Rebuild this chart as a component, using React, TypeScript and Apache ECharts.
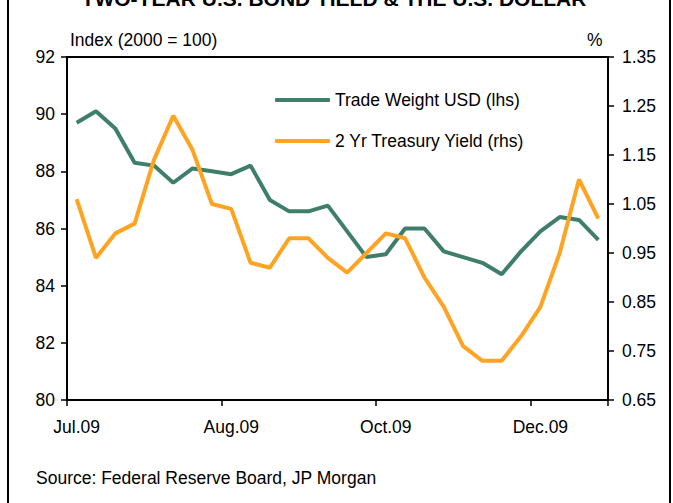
import React, { useEffect, useRef } from "react";
import * as echarts from "echarts";

const categories = [
  "Jul.09", "Jul.09", "Jul.09", "Jul.09", "Jul.09",
  "Aug.09", "Aug.09", "Aug.09", "Aug.09",
  "Sep.09", "Sep.09", "Sep.09", "Sep.09",
  "Oct.09", "Oct.09", "Oct.09", "Oct.09", "Oct.09",
  "Nov.09", "Nov.09", "Nov.09", "Nov.09",
  "Dec.09", "Dec.09", "Dec.09", "Dec.09",
  "Jan.10", "Jan.10",
];

const tradeWeightUSD = [
  89.7, 90.1, 89.5, 88.3, 88.2, 87.6, 88.1, 88.0, 87.9, 88.2,
  87.0, 86.6, 86.6, 86.8, 85.9, 85.0, 85.1, 86.0, 86.0, 85.2,
  85.0, 84.8, 84.4, 85.2, 85.9, 86.4, 86.3, 85.6,
];

const treasuryYield2Yr = [
  1.06, 0.94, 0.99, 1.01, 1.14, 1.23, 1.16, 1.05, 1.04, 0.93,
  0.92, 0.98, 0.98, 0.94, 0.91, 0.95, 0.99, 0.98, 0.90, 0.84,
  0.76, 0.73, 0.73, 0.78, 0.84, 0.95, 1.10, 1.02,
];

const seriesNames = ["Trade Weight USD (lhs)", "2 Yr Treasury Yield (rhs)"];
const titleText = "TWO-YEAR U.S. BOND YIELD & THE U.S. DOLLAR";
const leftAxisName = "Index (2000 = 100)";
const rightAxisName = "%";
const sourceText = "Source: Federal Reserve Board, JP Morgan";

const FONT = "'Liberation Sans', Arial, sans-serif";
const FS = 17.5;
const GREEN = "#3f7f69";
const ORANGE = "#ffa322";

export default function App() {
  const ref = useRef<HTMLDivElement>(null);
  useEffect(() => {
    if (!ref.current) return;
    const chart = echarts.init(ref.current, undefined, { renderer: "svg" });
    const axisLabelStyle = { color: "#000", fontSize: FS, fontFamily: FONT };
    chart.setOption({
      animation: false,
      backgroundColor: "#fff",
      textStyle: { fontFamily: FONT },
      grid: {
        left: 67,
        right: 65,
        top: 57,
        bottom: 103,
        show: true,
        borderColor: "#000",
        borderWidth: 2,
        containLabel: false,
      },
      legend: {
        orient: "vertical",
        left: 270,
        top: 86,
        itemWidth: 55,
        itemHeight: 4,
        itemGap: 23,
        icon: "roundRect",
        textStyle: { color: "#000", fontSize: FS, fontFamily: FONT },
        data: seriesNames,
      },
      xAxis: {
        type: "category",
        data: categories,
        boundaryGap: true,
        axisLine: { show: true, lineStyle: { color: "#000", width: 2 } },
        axisTick: { show: true, interval: 7, length: 6, lineStyle: { color: "#000", width: 1.5 } },
        axisLabel: { ...axisLabelStyle, interval: 7, margin: 18 },
        splitLine: { show: false },
      },
      yAxis: [
        {
          type: "value",
          position: "left",
          min: 80,
          max: 92,
          interval: 2,
          axisLine: { show: true, lineStyle: { color: "#000", width: 2 } },
          axisTick: { show: true, length: 6, lineStyle: { color: "#000", width: 1.5 } },
          axisLabel: { ...axisLabelStyle, margin: 12 },
          splitLine: { show: false },
        },
        {
          type: "value",
          position: "right",
          min: 0.65,
          max: 1.35,
          interval: 0.1,
          axisLine: { show: true, lineStyle: { color: "#000", width: 2 } },
          axisTick: { show: true, length: 6, lineStyle: { color: "#000", width: 1.5 } },
          axisLabel: {
            ...axisLabelStyle,
            margin: 14,
            formatter: (v: number) => v.toFixed(2),
          },
          splitLine: { show: false },
        },
      ],
      series: [
        {
          name: seriesNames[0],
          type: "line",
          yAxisIndex: 0,
          data: tradeWeightUSD,
          symbol: "none",
          lineStyle: { color: GREEN, width: 4 },
          itemStyle: { color: GREEN },
        },
        {
          name: seriesNames[1],
          type: "line",
          yAxisIndex: 1,
          data: treasuryYield2Yr,
          symbol: "none",
          lineStyle: { color: ORANGE, width: 4 },
          itemStyle: { color: ORANGE },
        },
      ],
      graphic: [
        {
          type: "rect",
          shape: { x: 8, y: -20, width: 662, height: 543 },
          style: { fill: "none", stroke: "#000", lineWidth: 2 },
          silent: true,
        },
        {
          type: "text",
          x: 334,
          y: -2,
          style: {
            text: titleText,
            fill: "#000",
            font: `bold 21px ${FONT}`,
            textAlign: "center",
            textVerticalAlign: "middle",
          },
        },
        {
          type: "text",
          x: 70,
          y: 40,
          style: {
            text: leftAxisName,
            fill: "#000",
            font: `${FS}px ${FONT}`,
            textAlign: "left",
            textVerticalAlign: "middle",
          },
        },
        {
          type: "text",
          x: 587,
          y: 40,
          style: {
            text: rightAxisName,
            fill: "#000",
            font: `${FS}px ${FONT}`,
            textAlign: "left",
            textVerticalAlign: "middle",
          },
        },
        {
          type: "text",
          x: 36,
          y: 478,
          style: {
            text: sourceText,
            fill: "#000",
            font: `${FS}px ${FONT}`,
            textAlign: "left",
            textVerticalAlign: "middle",
          },
        },
      ],
    });
    return () => chart.dispose();
  }, []);
  return (
    <div
      ref={ref}
      style={{ position: "fixed", left: 0, top: 0, width: 673, height: 503 }}
    />
  );
}
